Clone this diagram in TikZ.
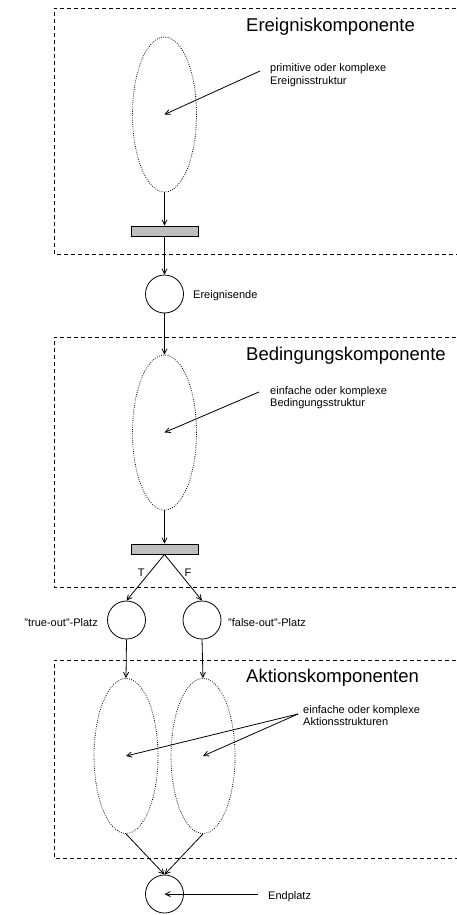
\documentclass[tikz,border=0pt]{standalone}
\usepackage{fontspec}
\setmainfont{Liberation Sans}
\usetikzlibrary{shapes.geometric,arrows.meta}
\definecolor{transgray}{RGB}{190,190,190}

\begin{document}
\begin{tikzpicture}[x=1pt,y=-1pt,
  comp/.style={dash pattern=on 4pt off 3pt, line width=0.8pt},
  struct/.style={ellipse, draw, dash pattern=on 0.8pt off 1.4pt, line width=0.8pt,
    minimum width=64pt, minimum height=155pt, inner sep=0pt},
  trans/.style={rectangle, draw, fill=transgray, line width=0.8pt,
    minimum width=67pt, minimum height=10pt, inner sep=0pt},
  place/.style={circle, draw, line width=0.8pt, minimum size=38pt, inner sep=0pt},
  flow/.style={-{Straight Barb[length=5pt,width=5pt]}, line width=0.8pt},
  heading/.style={font=\fontsize{18.5}{22}\selectfont, anchor=base west, inner sep=0pt},
  note/.style={font=\fontsize{11}{12.5}\selectfont, anchor=base west, inner sep=0pt, align=left},
]
\path[use as bounding box] (0,0) rectangle (457,915);
\clip (0,0) rectangle (457,915);

% component frames (open to the right)
\draw[comp] (470,8) -- (54,8) -- (54,254) -- (470,254);
\draw[comp] (470,337) -- (54,337) -- (54,587) -- (470,587);
\draw[comp] (470,660) -- (54,660) -- (54,858) -- (470,858);

% headings
\node[heading] (h1) at (246,32) {Ereigniskomponente};
\node[heading] (h2) at (246,360) {Bedingungskomponente};
\node[heading] (h3) at (246,682) {Aktionskomponenten};

% event component
\node[struct] (e1) at (164.5,114.5) {};
\node[trans] (t1) at (164.5,231) {};
\node[place] (p1) at (164.5,294) {};
\node[note] (l1) at (270,84.5) {primitive oder komplexe\\Ereignisstruktur};
\coordinate (n1) at (260,71);
\node[note] (lp1) at (193,298) {Ereignisende};

% condition component
\node[struct] (e2) at (164.5,432.5) {};
\node[trans] (t2) at (164.5,549) {};
\node[note] (l2) at (270,406.5) {einfache oder komplexe\\Bedingungsstruktur};
\coordinate (n2) at (259,392);

% output places
\node[place] (pT) at (126.5,620) {};
\node[place] (pF) at (202,620) {};
\node[note, anchor=base east] (lpT) at (98,626) {"true-out"-Platz};
\node[note] (lpF) at (228,626) {"false-out"-Platz};

% action components
\node[struct] (eT) at (126,756) {};
\node[struct] (eF) at (203,756) {};
\node[note] (l3) at (303,725.5) {einfache oder komplexe\\Aktionsstrukturen};
\coordinate (n3) at (298,714);

% end place
\node[place] (pE) at (164.5,894) {};
\node[note] (lpE) at (268,899) {Endplatz};
\coordinate (n4) at (258,894);

% flow arcs
\draw[flow] (e1.south) -- (t1.north);
\draw[flow] (t1.south) -- (p1.north);
\draw[flow] (p1.south) -- (e2.north);
\draw[flow] (e2.south) -- (t2.north);
\draw[flow] (t2.south) -- node[pos=0.4, left=1pt, font=\fontsize{11}{12}\selectfont] {T} (pT.north);
\draw[flow] (t2.south) -- node[pos=0.4, right=1.5pt, font=\fontsize{11}{12}\selectfont] {F} (pF.north);
\draw[flow] (pT.south) -- (eT.north);
\draw[flow] (pF.south) -- (eF.north);
\draw[flow] (eT.south) -- (pE.north);
\draw[flow] (eF.south) -- (pE.north);

% annotation pointers
\draw[flow] (n1) -- (e1.center);
\draw[flow] (n2) -- (e2.center);
\draw[flow] (n3) -- (eT.center);
\draw[flow] (n3) -- (eF.center);
\draw[flow] (n4) -- (pE.center);
\end{tikzpicture}
\end{document}
